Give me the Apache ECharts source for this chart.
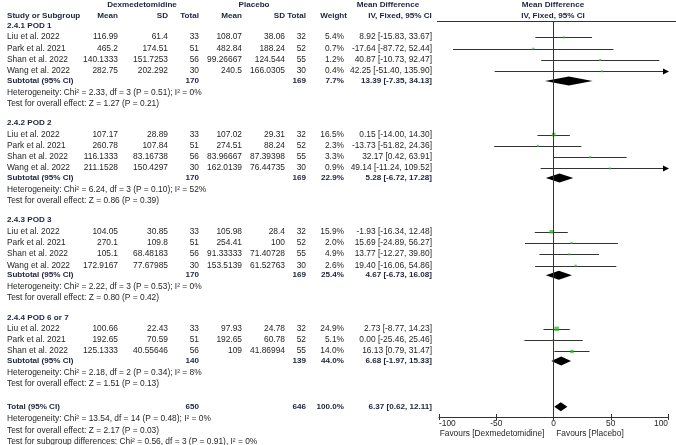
<!DOCTYPE html>
<html><head><meta charset="utf-8">
<script src="https://cdn.jsdelivr.net/npm/echarts@6/dist/echarts.min.js"></script>
<style>html,body{margin:0;padding:0;background:#fff}#c{width:676px;height:445px}</style>
</head><body><div id="c"></div>
<script>
// ---------------- DATA ----------------
const groupNames = ['2.4.1 POD 1', '2.4.2 POD 2', '2.4.3 POD 3', '2.4.4 POD 6 or 7'];
const studyNames = [
  ['Liu et al. 2022', 'Park et al. 2021', 'Shan et al. 2022', 'Wang et al. 2022'],
  ['Liu et al. 2022', 'Park et al. 2021', 'Shan et al. 2022', 'Wang et al. 2022'],
  ['Liu et al. 2022', 'Park et al. 2021', 'Shan et al. 2022', 'Wang et al. 2022'],
  ['Liu et al. 2022', 'Park et al. 2021', 'Shan et al. 2022']
];
const dexMean = [
  ['116.99', '465.2', '140.1333', '282.75'],
  ['107.17', '260.78', '116.1333', '211.1528'],
  ['104.05', '270.1', '105.1', '172.9167'],
  ['100.66', '192.65', '125.1333']
];
const dexSD = [
  ['61.4', '174.51', '151.7253', '202.292'],
  ['28.89', '107.84', '83.16738', '150.4297'],
  ['30.85', '109.8', '68.48183', '77.67985'],
  ['22.43', '70.59', '40.55646']
];
const dexN = [[33, 51, 56, 30], [33, 51, 56, 30], [33, 51, 56, 30], [33, 51, 56]];
const plaMean = [
  ['108.07', '482.84', '99.26667', '240.5'],
  ['107.02', '274.51', '83.96667', '162.0139'],
  ['105.98', '254.41', '91.33333', '153.5139'],
  ['97.93', '192.65', '109']
];
const plaSD = [
  ['38.06', '188.24', '124.544', '166.0305'],
  ['29.31', '88.24', '87.39398', '76.44735'],
  ['28.4', '100', '71.40728', '61.52763'],
  ['24.78', '60.78', '41.86994']
];
const plaN = [[32, 52, 55, 30], [32, 52, 55, 30], [32, 52, 55, 30], [32, 52, 55]];
const weight = [[5.4, 0.7, 1.2, 0.4], [16.5, 2.3, 3.3, 0.9], [15.9, 2.0, 4.9, 2.6], [24.9, 5.1, 14.0]];
const md = [[8.92, -17.64, 40.87, 42.25], [0.15, -13.73, 32.17, 49.14], [-1.93, 15.69, 13.77, 19.40], [2.73, 0.00, 16.13]];
const ciLow = [[-15.83, -87.72, -10.73, -51.40], [-14.00, -51.82, 0.42, -11.24], [-16.34, -24.89, -12.27, -16.06], [-8.77, -25.46, 0.79]];
const ciHigh = [[33.67, 52.44, 92.47, 135.90], [14.30, 24.36, 63.91, 109.52], [12.48, 56.27, 39.80, 54.86], [14.23, 25.46, 31.47]];

const subDexN = [170, 170, 170, 140];
const subPlaN = [169, 169, 169, 139];
const subWeight = [7.7, 22.9, 25.4, 44.0];
const subMd = [13.39, 5.28, 4.67, 6.68];
const subLow = [-7.35, -6.72, -6.73, -1.97];
const subHigh = [34.13, 17.28, 16.08, 15.33];
const hetText = [
  'Heterogeneity: Chi² = 2.33, df = 3 (P = 0.51); I² = 0%',
  'Heterogeneity: Chi² = 6.24, df = 3 (P = 0.10); I² = 52%',
  'Heterogeneity: Chi² = 2.22, df = 3 (P = 0.53); I² = 0%',
  'Heterogeneity: Chi² = 2.18, df = 2 (P = 0.34); I² = 8%'
];
const effectText = [
  'Test for overall effect: Z = 1.27 (P = 0.21)',
  'Test for overall effect: Z = 0.86 (P = 0.39)',
  'Test for overall effect: Z = 0.80 (P = 0.42)',
  'Test for overall effect: Z = 1.51 (P = 0.13)'
];
const totalDexN = 650, totalPlaN = 646, totalWeight = 100.0;
const totalMd = 6.37, totalLow = 0.62, totalHigh = 12.11;
const totalNotes = [
  'Heterogeneity: Chi² = 13.54, df = 14 (P = 0.48); I² = 0%',
  'Test for overall effect: Z = 2.17 (P = 0.03)',
  'Test for subgroup differences: Chi² = 0.56, df = 3 (P = 0.91), I² = 0%'
];
const xTicks = [-100, -50, 0, 50, 100];
const favoursLeft = 'Favours [Dexmedetomidine]';
const favoursRight = 'Favours [Placebo]';

// ---------------- LAYOUT ----------------
const W = 676, H = 445;
const gridTop = 21, gridBottomY = 417, gridLeft = 439, gridRightX = 668;
const yMin = -0.45, yMax = 34.6;
const unit = (gridBottomY - gridTop) / (yMax - yMin);
const yPix = L => gridTop + (L - yMin) * unit;
const FONT = '"Liberation Sans", Arial, Helvetica, sans-serif';
const FS = 8.4, FSB = 8.1;
const C_TXT = '#1f1f1f', C_BOLD = '#1b2440';

const col = {study: 7, dexMean: 118, dexSD: 168, dexN: 199, plaMean: 242, plaSD: 285, plaN: 306, weight: 344, ci: 432};

const fmt = v => v.toFixed(2);
const ciStr = (m, l, h) => fmt(m) + ' [' + fmt(l) + ', ' + fmt(h) + ']';

const texts = [];
function T(x, L, s, align, bold, color) {
  texts.push({type: 'text', x: x, y: Math.round(yPix(L)), silent: true,
    style: {text: String(s), textAlign: align || 'left', textVerticalAlign: 'middle', verticalAlign: 'middle',
      fontFamily: FONT, fontSize: bold ? FSB : FS, fontWeight: bold ? 'bold' : 'normal', fill: color || (bold ? C_BOLD : C_TXT)}});
}

// headers
const LH1 = (5 - gridTop) / unit + yMin, LH2 = (15.5 - gridTop) / unit + yMin;
T(142, LH1, 'Dexmedetomidine', 'center', true);
T(254, LH1, 'Placebo', 'center', true);
T(388, LH1, 'Mean Difference', 'center', true);
T(553, LH1, 'Mean Difference', 'center', true);
T(col.study, LH2, 'Study or Subgroup', 'left', true);
T(col.dexMean, LH2, 'Mean', 'right', true);
T(col.dexSD, LH2, 'SD', 'right', true);
T(col.dexN, LH2, 'Total', 'right', true);
T(col.plaMean, LH2, 'Mean', 'right', true);
T(col.plaSD, LH2, 'SD', 'right', true);
T(col.plaN, LH2, 'Total', 'right', true);
T(347, LH2, 'Weight', 'right', true);
T(400, LH2, 'IV, Fixed, 95% CI', 'center', true);
T(553, LH2, 'IV, Fixed, 95% CI', 'center', true);

const ciData = [], sqData = [], diaData = [];
let cursor = 0, lastTest = 0;
groupNames.forEach((g, gi) => {
  T(col.study, cursor, g, 'left', true);
  const n = studyNames[gi].length;
  studyNames[gi].forEach((s, i) => {
    const L = cursor + 1 + i;
    T(col.study, L, s);
    T(col.dexMean, L, dexMean[gi][i], 'right');
    T(col.dexSD, L, dexSD[gi][i], 'right');
    T(col.dexN, L, dexN[gi][i], 'right');
    T(col.plaMean, L, plaMean[gi][i], 'right');
    T(col.plaSD, L, plaSD[gi][i], 'right');
    T(col.plaN, L, plaN[gi][i], 'right');
    T(col.weight, L, weight[gi][i].toFixed(1) + '%', 'right');
    T(col.ci, L, ciStr(md[gi][i], ciLow[gi][i], ciHigh[gi][i]), 'right');
    ciData.push([ciLow[gi][i], ciHigh[gi][i], L]);
    sqData.push([md[gi][i], L, weight[gi][i]]);
  });
  const Ls = cursor + n + 0.85;
  T(col.study, Ls, 'Subtotal (95% CI)', 'left', true);
  T(col.dexN, Ls, subDexN[gi], 'right', true);
  T(col.plaN, Ls, subPlaN[gi], 'right', true);
  T(col.weight, Ls, subWeight[gi].toFixed(1) + '%', 'right', true);
  T(col.ci, Ls, ciStr(subMd[gi], subLow[gi], subHigh[gi]), 'right', true);
  diaData.push([subMd[gi], subLow[gi], subHigh[gi], Ls]);
  T(col.study, cursor + n + 1.9, hetText[gi]);
  T(col.study, cursor + n + 2.9, effectText[gi]);
  lastTest = cursor + n + 2.9;
  cursor = cursor + n + 4.6;
});
const Lt = lastTest + 2.0;
T(col.study, Lt, 'Total (95% CI)', 'left', true);
T(col.dexN, Lt, totalDexN, 'right', true);
T(col.plaN, Lt, totalPlaN, 'right', true);
T(col.weight, Lt, totalWeight.toFixed(1) + '%', 'right', true);
T(col.ci, Lt, ciStr(totalMd, totalLow, totalHigh), 'right', true);
diaData.push([totalMd, totalLow, totalHigh, Lt]);
totalNotes.forEach((s, i) => T(col.study, Lt + 1.05 * (i + 1), s));

// favours labels under axis
texts.push({type: 'text', x: 492, y: 434, silent: true, style: {text: favoursLeft, textAlign: 'center', textVerticalAlign: 'middle', verticalAlign: 'middle', fontFamily: FONT, fontSize: FS, fill: C_TXT}});
texts.push({type: 'text', x: 590, y: 434, silent: true, style: {text: favoursRight, textAlign: 'center', textVerticalAlign: 'middle', verticalAlign: 'middle', fontFamily: FONT, fontSize: FS, fill: C_TXT}});
// header rule
texts.push({type: 'line', silent: true, shape: {x1: 437, y1: gridTop + 0.5, x2: W, y2: gridTop + 0.5}, style: {stroke: '#333', lineWidth: 1}});

const xMin = xTicks[0], xMax = xTicks[xTicks.length - 1];

function renderCI(params, api) {
  const lo = api.value(0), hi = api.value(1), L = api.value(2);
  const a = api.coord([Math.max(lo, xMin), L]);
  const b = api.coord([Math.min(hi, xMax), L]);
  const y = Math.round(a[1]) + 0.5;
  const ch = [{type: 'line', shape: {x1: a[0], y1: y, x2: b[0], y2: y}, style: {stroke: '#333', lineWidth: 1}}];
  if (hi > xMax) ch.push({type: 'polygon', shape: {points: [[b[0] + 1, y], [b[0] - 5, y - 3], [b[0] - 5, y + 3]]}, style: {fill: '#000'}});
  if (lo < xMin) ch.push({type: 'polygon', shape: {points: [[a[0] - 1, y], [a[0] + 5, y - 3], [a[0] + 5, y + 3]]}, style: {fill: '#000'}});
  return {type: 'group', children: ch};
}
function renderDia(params, api) {
  const m = api.value(0), lo = api.value(1), hi = api.value(2), L = api.value(3);
  const pl = api.coord([lo, L]), pm = api.coord([m, L]), ph = api.coord([hi, L]);
  const h = 4.5;
  return {type: 'polygon', shape: {points: [[pl[0], pl[1]], [pm[0], pm[1] - h], [ph[0], ph[1]], [pm[0], pm[1] + h]]}, style: {fill: '#000'}};
}

const chart = echarts.init(document.getElementById('c'), null, {renderer: 'canvas'});
chart.setOption({
  animation: false,
  backgroundColor: '#fff',
  grid: {left: gridLeft, right: W - gridRightX, top: gridTop, bottom: H - gridBottomY, containLabel: false},
  xAxis: [{
    type: 'value', min: xMin, max: xMax, interval: 50, position: 'bottom',
    splitLine: {show: false},
    axisLine: {show: true, onZero: false, lineStyle: {color: '#333', width: 1}},
    axisTick: {show: true, length: 3, lineStyle: {color: '#333'}},
    axisLabel: {show: true, margin: 3, fontSize: FS, fontFamily: FONT, color: C_TXT, alignMinLabel: 'left', alignMaxLabel: 'right',
      formatter: v => String(v)}
  }, {
    type: 'value', min: xMin, max: xMax, interval: 50, position: 'bottom',
    splitLine: {show: false},
    axisLine: {show: false, onZero: false},
    axisTick: {show: true, inside: true, length: 3, lineStyle: {color: '#333'}},
    axisLabel: {show: false}
  }],
  yAxis: {type: 'value', min: yMin, max: yMax, inverse: true, show: false, splitLine: {show: false}},
  series: [
    {type: 'custom', name: 'ci', renderItem: renderCI, data: ciData, encode: {x: [0, 1], y: 2}, clip: false, silent: true, z: 2,
      markLine: {silent: true, symbol: ['none', 'none'], label: {show: false}, lineStyle: {color: '#333', width: 1, type: 'solid'},
        data: [[{coord: [0, yMin]}, {coord: [0, yMax]}]]}},
    {type: 'scatter', name: 'md', data: sqData, symbol: 'rect', z: 3, silent: true,
      symbolSize: v => Math.max(2, 0.9 * Math.sqrt(v[2])), itemStyle: {color: '#1fc81f'}},
    {type: 'custom', name: 'pooled', renderItem: renderDia, data: diaData, encode: {x: [0, 1, 2], y: 3}, clip: false, silent: true, z: 4}
  ],
  graphic: texts
});
</script></body></html>
